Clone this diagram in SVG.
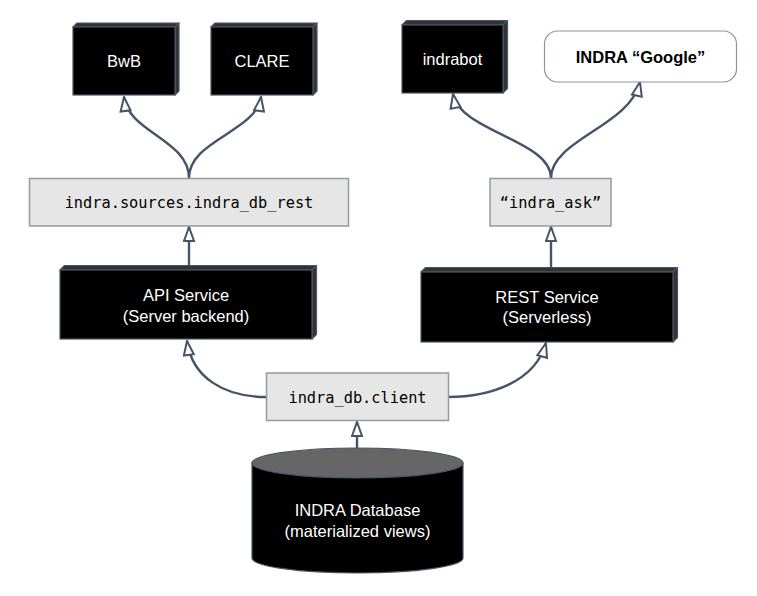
<svg xmlns="http://www.w3.org/2000/svg" width="757" height="596" viewBox="0 0 757 596">
<defs>
<style>
.front{fill:#000;stroke:#4b5563;stroke-width:1.2}
.side{fill:#333;stroke:#4b5563;stroke-width:1.2;stroke-linejoin:round}
.lbl{font-family:"Liberation Sans",Arial,sans-serif;font-size:16.5px;fill:#fff;text-anchor:middle}
.mono{font-family:"DejaVu Sans Mono","Liberation Mono",monospace;font-size:15.3px;fill:#000;text-anchor:middle}
.code{fill:#e6e6e6;stroke:#939aa3;stroke-width:1.5}
.edge{fill:none;stroke:#455469;stroke-width:2.4}
</style>
<marker id="arr" markerUnits="userSpaceOnUse" viewBox="0 0 17 13" markerWidth="17" markerHeight="13" refX="16" refY="6.5" orient="auto">
<path d="M2,1.5 L16,6.5 L2,11.5 Z" fill="#fff" stroke="#455469" stroke-width="2" stroke-linejoin="miter"/>
</marker>
</defs>
<rect width="757" height="596" fill="#fff"/>

<g id="connectors">
<path class="edge" d="M189 178 C189 140 128 132 124 97" marker-end="url(#arr)"/>
<path class="edge" d="M189 178 C189 140 256 132 261 97" marker-end="url(#arr)"/>
<path class="edge" d="M189 266 L189 227" marker-end="url(#arr)"/>
<path class="edge" d="M551 178 C551 140 460 132 453 94" marker-end="url(#arr)"/>
<path class="edge" d="M551 178 C551 140 630 126 640 82" marker-end="url(#arr)"/>
<path class="edge" d="M551 268 L551 227" marker-end="url(#arr)"/>
<path class="edge" d="M266 397 C225 397 192 378 187 341" marker-end="url(#arr)"/>
<path class="edge" d="M448 397 C490 397 535 382 546 343" marker-end="url(#arr)"/>
<path class="edge" d="M357 448 L357 422" marker-end="url(#arr)"/>
</g>

<g id="bwb">
<polygon class="side" points="73,27 77,23 179,23 175,27"/>
<polygon class="side" points="175,27 179,23 179,91 175,95"/>
<rect class="front" x="73" y="27" width="102" height="68"/>
<text class="lbl" x="124" y="66.5">BwB</text>
</g>

<g id="clare">
<polygon class="side" points="211,27 215,23 317,23 313,27"/>
<polygon class="side" points="313,27 317,23 317,91 313,95"/>
<rect class="front" x="211" y="27" width="102" height="68"/>
<text class="lbl" x="262" y="66.5">CLARE</text>
</g>

<g id="indrabot">
<polygon class="side" points="402,25 406.5,20.5 507.5,20.5 503,25"/>
<polygon class="side" points="503,25 507.5,20.5 507.5,88.5 503,93"/>
<rect class="front" x="402" y="25" width="101" height="68"/>
<text class="lbl" x="452.5" y="65">indrabot</text>
</g>

<g id="google">
<rect x="544.5" y="31" width="192" height="51" rx="13" fill="#fff" stroke="#8e949c" stroke-width="1.2"/>
<text class="lbl" x="640.5" y="63.4" style="fill:#000;font-weight:bold">INDRA “Google”</text>
</g>

<g id="indra_db_rest">
<rect class="code" x="29.5" y="178.5" width="319" height="47.5"/>
<text class="mono" x="189" y="207.5">indra.sources.indra_db_rest</text>
</g>

<g id="indra_ask">
<rect class="code" x="490" y="178.5" width="121" height="47.5"/>
<text class="mono" x="550.5" y="207.5">“indra_ask”</text>
</g>

<g id="api_service">
<polygon class="side" points="60,270 64.5,265.5 316.5,265.5 312,270"/>
<polygon class="side" points="312,270 316.5,265.5 316.5,334.5 312,339"/>
<rect class="front" x="60" y="270" width="252" height="69"/>
<text class="lbl" x="186" y="301">API Service</text>
<text class="lbl" x="186" y="321.5">(Server backend)</text>
</g>

<g id="rest_service">
<polygon class="side" points="421,272 425.5,267.5 677.5,267.5 673,272"/>
<polygon class="side" points="673,272 677.5,267.5 677.5,337.5 673,342"/>
<rect class="front" x="421" y="272" width="252" height="70"/>
<text class="lbl" x="547" y="302.7">REST Service</text>
<text class="lbl" x="547" y="323">(Serverless)</text>
</g>

<g id="indra_db_client">
<rect class="code" x="266.5" y="373" width="182" height="47.5"/>
<text class="mono" x="357.5" y="403">indra_db.client</text>
</g>

<g id="indra_database">
<path d="M252 463 L252 558 A105.5 15 0 0 0 463 558 L463 463 Z" fill="#000" stroke="#4b5563" stroke-width="1.2"/>
<ellipse cx="357.5" cy="463" rx="105.5" ry="15" fill="#666" stroke="#4b5563" stroke-width="1.2"/>
<text class="lbl" x="357.5" y="516">INDRA Database</text>
<text class="lbl" x="357.5" y="536.5">(materialized views)</text>
</g>
</svg>
